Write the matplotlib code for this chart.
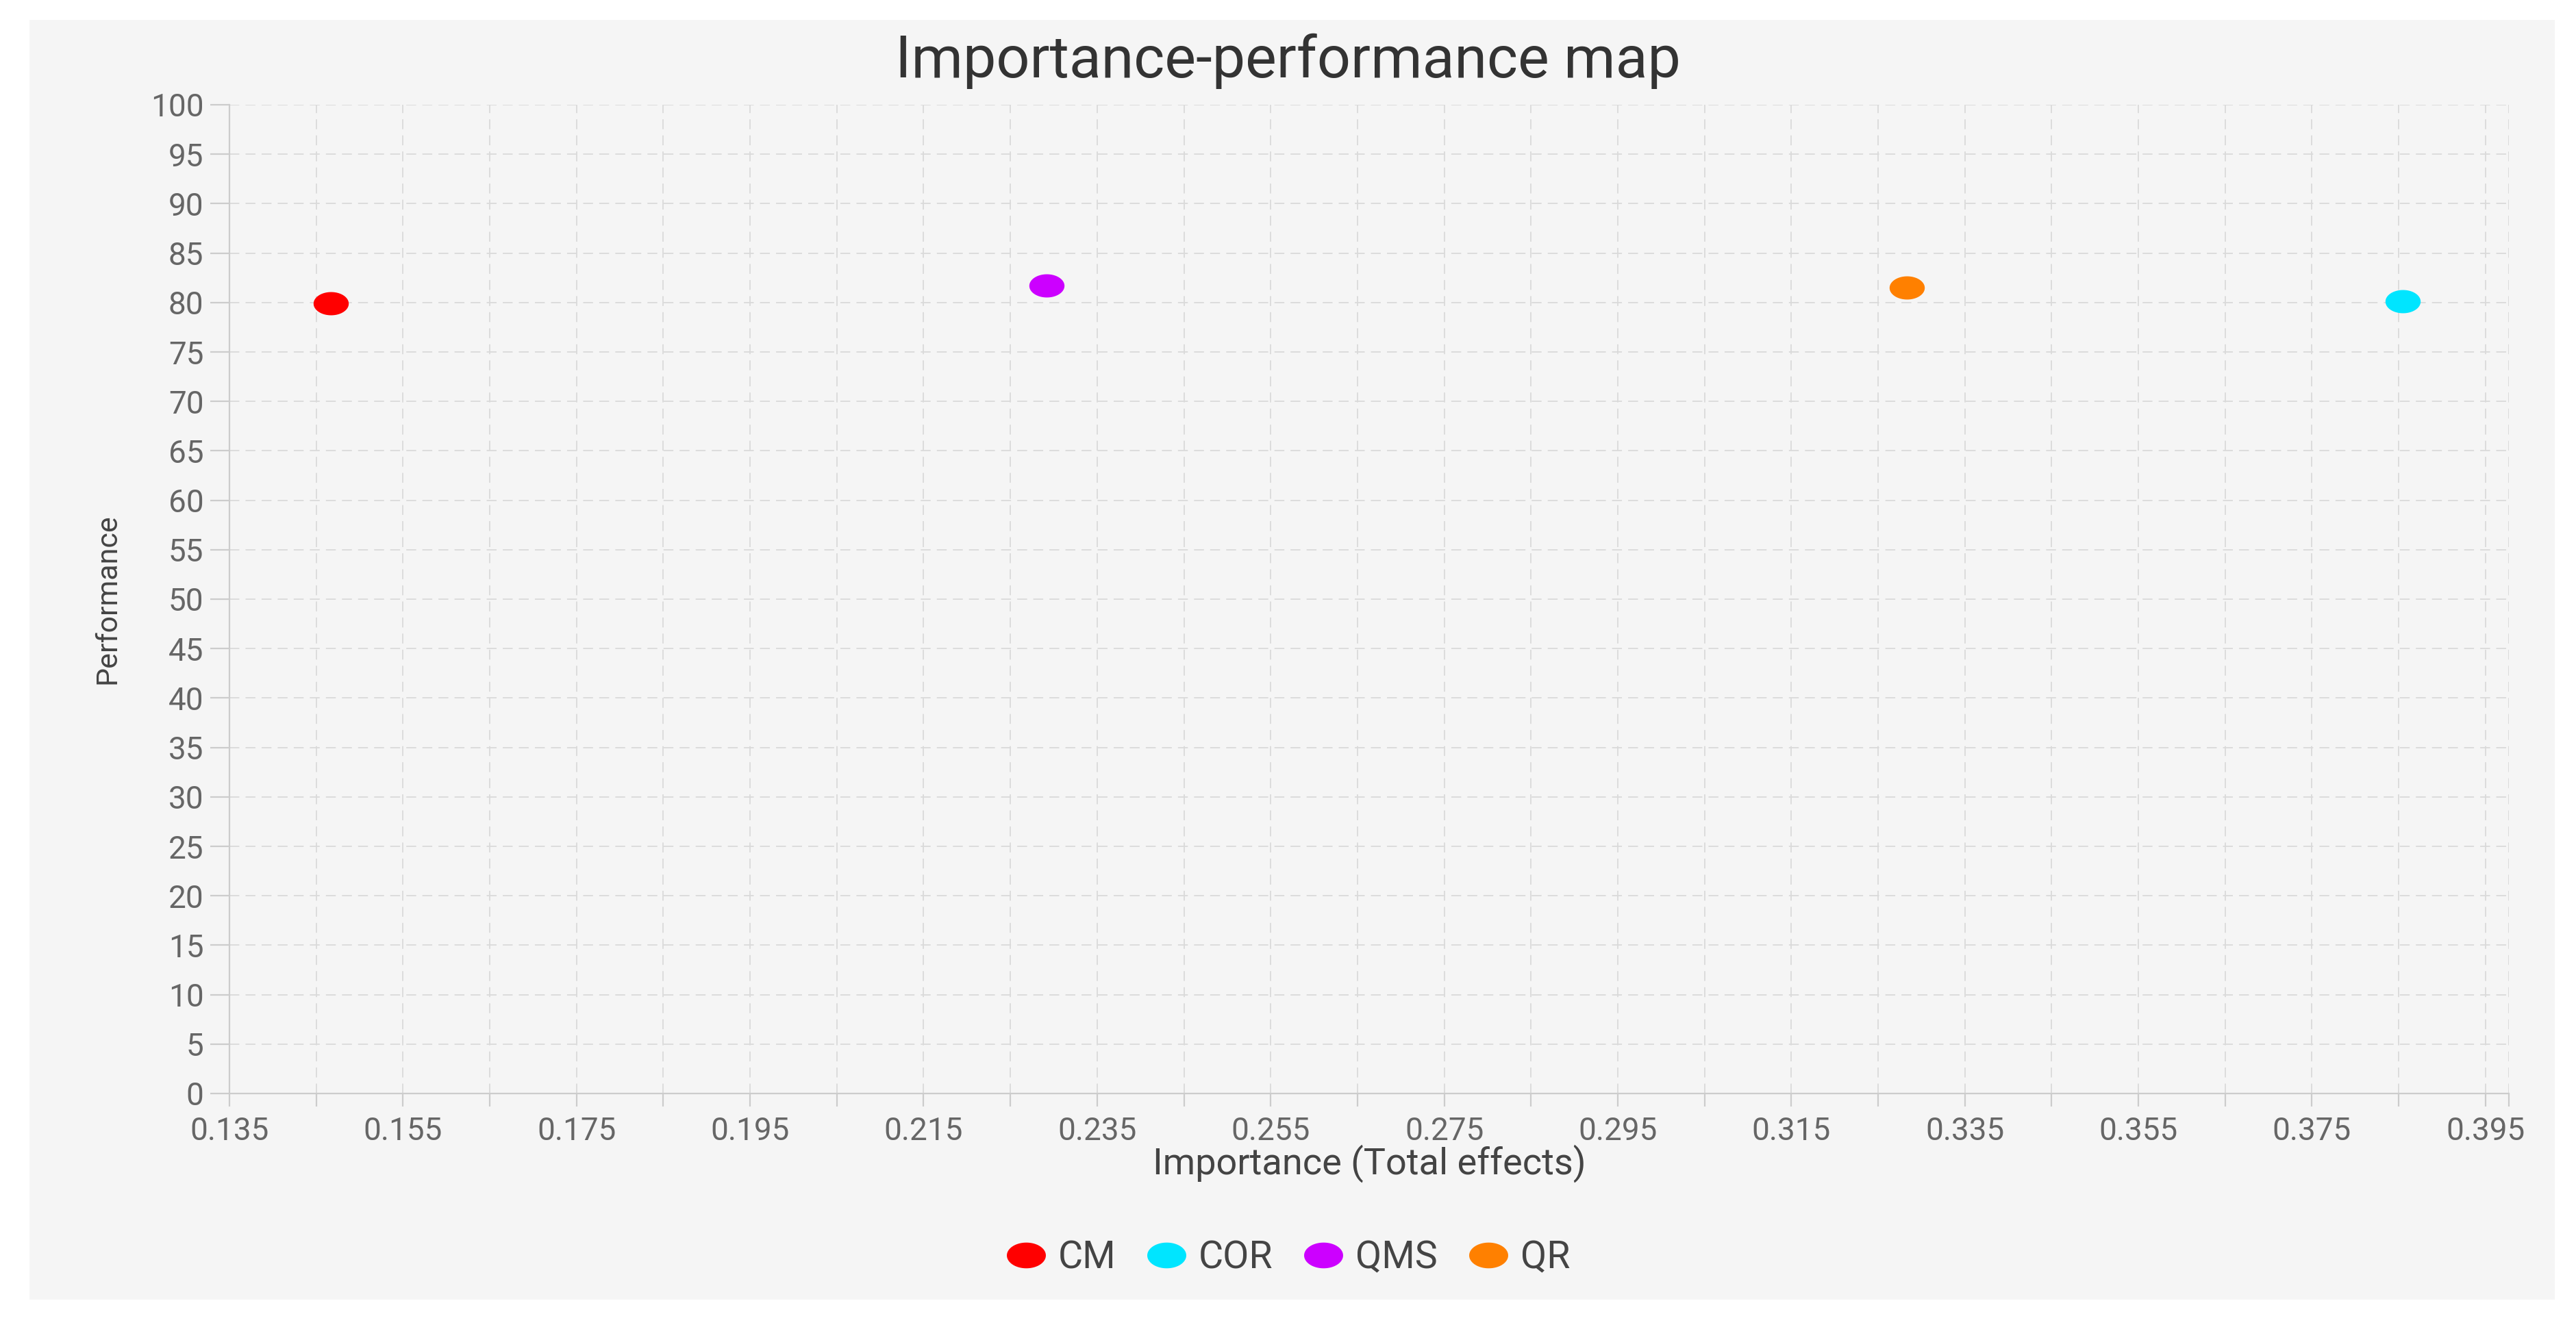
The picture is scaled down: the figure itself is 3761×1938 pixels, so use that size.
import numpy as np
import matplotlib
matplotlib.use("Agg")
import matplotlib.pyplot as plt
from matplotlib.path import Path
from matplotlib.patches import Rectangle
from matplotlib.lines import Line2D

# data
names = ["CM", "COR", "QMS", "QR"]
importance = [0.1467, 0.3855, 0.2292, 0.3283]
performance = [79.9, 80.1, 81.7, 81.5]
colors = ["#ff0000", "#00e5ff", "#cc00ff", "#ff8000"]

x_min, x_max = 0.135, 0.3977
x_ticks = [round(0.135 + 0.01 * i, 3) for i in range(27)]
x_labels = ["%.3f" % t if i % 2 == 0 else "" for i, t in enumerate(x_ticks)]
y_ticks = list(range(0, 101, 5))

plt.rcParams["font.family"] = ["Roboto", "DejaVu Sans"]

W, H = 3761, 1938
fig = plt.figure(figsize=(W / 100, H / 100), dpi=100, facecolor="white")
# grey card behind everything
fig.patches.append(Rectangle((43 / W, 1 - 1898 / H), (3730 - 43) / W, (1898 - 29) / H,
                             transform=fig.transFigure, facecolor="#f5f5f5",
                             edgecolor="none", zorder=-10))

ax = fig.add_axes([335 / W, 1 - 1597 / H, (3663 - 335) / W, (1597 - 153) / H])
ax.set_facecolor("none")
ax.set_zorder(1)

# wide ellipse marker (the picture is stretched sideways)
t = np.linspace(0, 2 * np.pi, 80)
ell = Path(np.column_stack([np.cos(t), 0.66 * np.sin(t)]), closed=True)

for n, xv, yv, c in zip(names, importance, performance, colors):
    ax.plot([xv], [yv], ls="none", marker=ell, ms=37, color=c, mec="none", zorder=3)

ax.set_xlim(x_min, x_max)
ax.set_ylim(0, 100)
ax.set_xticks(x_ticks + [x_max], x_labels + [""])
ax.set_yticks(y_ticks, [str(v) for v in y_ticks])

ax.grid(True, color="#dadada", linestyle=(0, (8, 5)), linewidth=1.3, zorder=1)
ax.set_axisbelow(True)
for s in ["top", "right"]:
    ax.spines[s].set_visible(False)
for s in ["left", "bottom"]:
    ax.spines[s].set_color("#cccccc")
    ax.spines[s].set_linewidth(1.6)

ax.tick_params(axis="y", length=20, width=1.6, color="#cccccc", pad=7,
               labelsize=33, labelcolor="#666666")
ax.tick_params(axis="x", length=14, width=1.6, color="#cccccc", pad=10,
               labelsize=33, labelcolor="#666666")

fig.text(0.5, 1 - 113 / H, "Importance-performance map", ha="center", va="baseline",
         fontsize=62, color="#333333")
fig.text((335 + 3663) / 2 / W, 1 - 1715 / H, "Importance (Total effects)", ha="center",
         va="baseline", fontsize=39, color="#444444")
fig.text(178 / W, 1 - 875 / H, "Performance", rotation=90, ha="right", va="center",
         fontsize=31, color="#444444")

handles = [Line2D([], [], ls="none", marker=ell, ms=41, color=c, mec="none") for c in colors]
fig.legend(handles, names, loc="center", bbox_to_anchor=(0.5, 1 - 1837 / H), ncol=4,
           frameon=False, fontsize=40, labelcolor="#444444", handlelength=1.05,
           handletextpad=0.32, columnspacing=0.8, borderpad=0)

fig.savefig("out.png", dpi=100, facecolor="white")
